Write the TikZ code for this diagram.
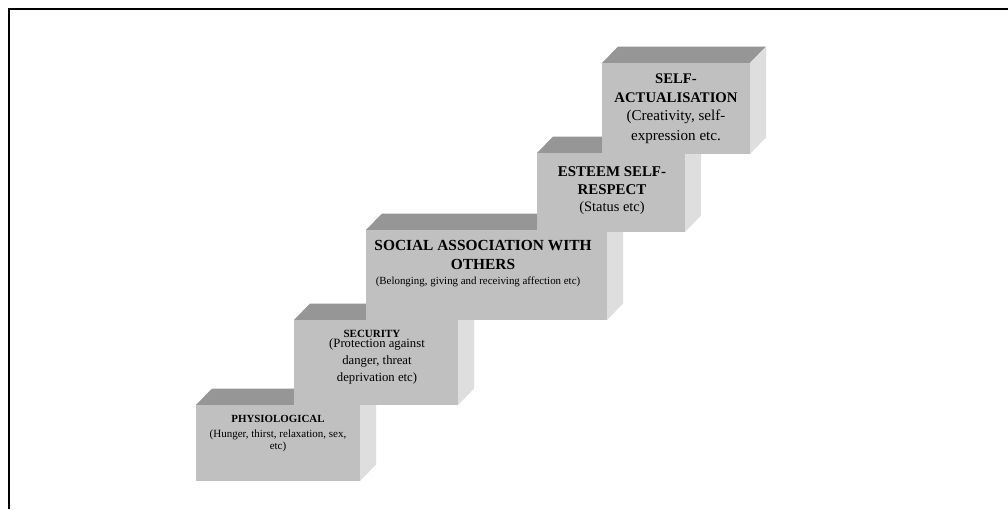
\documentclass[tikz,border=0pt]{standalone}
\usepackage{fontspec}
\setmainfont{Liberation Serif}
\definecolor{facegray}{HTML}{C0C0C0}
\definecolor{topgray}{HTML}{969696}
\definecolor{sidegray}{HTML}{DEDEDE}
% one step of the staircase: front face from (x1,ytop) to (x2,ybot), with top and right faces
\newcommand{\stepblock}[4]{%
  \fill[topgray] (#1,#3) -- (#1+16,#3-16.5) -- (#2+16,#3-16.5) -- (#2,#3) -- cycle;
  \fill[sidegray] (#2,#3) -- (#2+16,#3-16.5) -- (#2+16,#4-16.5) -- (#2,#4) -- cycle;
  \fill[facegray] (#1,#3) rectangle (#2,#4);
}
\newcommand{\fs}[1]{\fontsize{#1pt}{#1pt}\selectfont}
\begin{document}
\begin{tikzpicture}[x=1pt,y=-1pt,
  lbl/.style={anchor=base, inner sep=0pt, text=black},
  ttl/.style={lbl, font=\bfseries}]
\useasboundingbox (0,0) rectangle (1008,509);
\fill[white] (0,0) rectangle (1008,509);
\draw[line width=2.6pt, line join=miter] (9,509) -- (9,9) -- (1008,9);

% steps, from the lowest to the highest
\stepblock{196}{360}{405}{481}
\stepblock{294}{458}{320}{405}
\stepblock{366}{607}{230}{320}
\stepblock{537}{685}{153}{232}
\stepblock{602}{750}{63}{154}

% physiological
\node[ttl] (p1) at (278,422) {\fs{10.9}PHYSIOLOGICAL};
\node[lbl] (p2) at (278,437.3) {\fs{11}(Hunger, thirst, relaxation, sex,};
\node[lbl] (p3) at (278,449.3) {\fs{11}etc)};

% security
\node[ttl] (s1) at (372,337.3) {\fs{11}SECURITY};
\node[lbl] (s2) at (377,347.7) {\fs{12.7}(Protection against};
\node[lbl] (s3) at (377,364.3) {\fs{12.7}danger, threat};
\node[lbl] (s4) at (377,381) {\fs{12.7}deprivation etc)};

% social
\node[ttl] (c1) at (483,250.7) {\fs{15.4}SOCIAL ASSOCIATION WITH};
\node[ttl] (c2) at (483,269.3) {\fs{15.4}OTHERS};
\node[lbl] (c3) at (478,284) {\fs{10.9}(Belonging, giving and receiving affection etc)};

% esteem
\node[ttl] (e1) at (612,176) {\fs{14.9}ESTEEM SELF-};
\node[ttl] (e2) at (612,194) {\fs{14.9}RESPECT};
\node[lbl] (e3) at (612,211.7) {\fs{14.4}(Status etc)};

% self-actualisation
\node[ttl] (a1) at (676,83.3) {\fs{14.7}SELF-};
\node[ttl] (a2) at (676,102.7) {\fs{14.7}ACTUALISATION};
\node[lbl] (a3) at (676,120.7) {\fs{15.1}(Creativity, self-};
\node[lbl] (a4) at (676,140) {\fs{15.1}expression etc.};
\end{tikzpicture}
\end{document}
